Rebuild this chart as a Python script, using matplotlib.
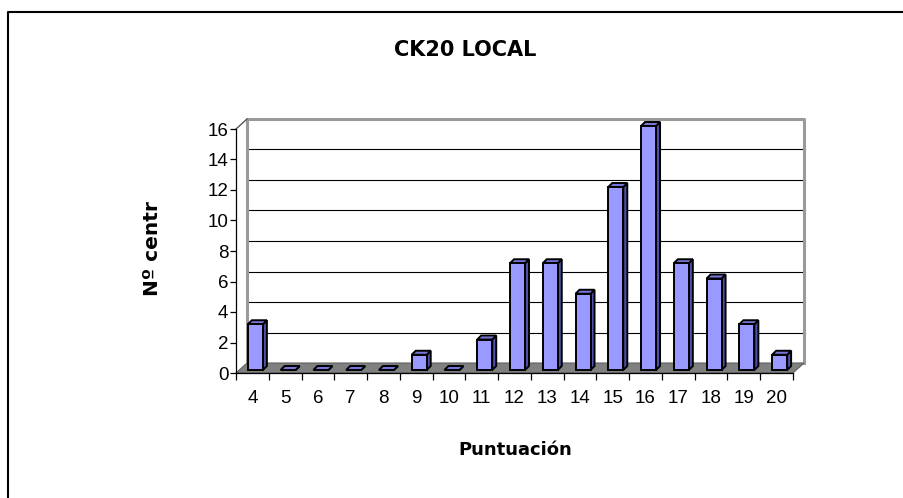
import matplotlib
matplotlib.use("Agg")
import matplotlib.pyplot as plt
from matplotlib.patches import Polygon, Rectangle
from matplotlib.lines import Line2D
import numpy as np

# Puntuaciones y número de centros
puntuacion = [4, 5, 6, 7, 8, 9, 10, 11, 12, 13, 14, 15, 16, 17, 18, 19, 20]
n_centros = [3, 0, 0, 0, 0, 1, 0, 2, 7, 7, 5, 12, 16, 7, 6, 3, 1]
y_ticks = [0, 2, 4, 6, 8, 10, 12, 14, 16]

W, H = 904, 498
fig = plt.figure(figsize=(W / 100, H / 100), dpi=100)

# front plane of the 3d box, in pixels
x0, x1 = 236, 793
y_bot, y_top = 373, 129
ax = fig.add_axes([x0 / W, (H - y_bot) / H, (x1 - x0) / W, (y_bot - y_top) / H])
n = len(puntuacion)
ax.set_xlim(-0.5, n - 0.5)
ax.set_ylim(0, 16)
ax.patch.set_visible(False)

# pixel -> data conversion for the depth offsets
cat_px = (x1 - x0) / n
unit_px = (y_bot - y_top) / 16.0
def off(px, py):
    return px / cat_px, py / unit_px

ddx, ddy = off(11, 10)      # full depth of the box
left, right = -0.5, n - 0.5

# floor
ax.add_patch(Polygon([(left, 0), (right, 0), (right + ddx, ddy), (left + ddx, ddy)],
                     closed=True, facecolor="#808080", edgecolor="#606060",
                     lw=0.8, clip_on=False, zorder=1))

# back wall gridlines and border
for t in y_ticks[1:-1]:
    ax.add_line(Line2D([left + ddx, right + ddx], [t + ddy, t + ddy],
                       color="black", lw=0.8, clip_on=False, zorder=0.5))
ax.add_line(Line2D([left + ddx, left + ddx, right + ddx, right + ddx],
                   [ddy, 16 + ddy, 16 + ddy, ddy],
                   color="#9a9a9a", lw=2.2, clip_on=False, zorder=0.6))
ax.add_line(Line2D([left, left + ddx], [16, 16 + ddy], color="#555555",
                   lw=1.0, clip_on=False, zorder=0.7))

# 3d columns
bw = 15 / cat_px
fx, fy = off(3, 3)
bdx, bdy = off(4, 4)
for i, v in enumerate(n_centros):
    xl = i - bw / 2 + fx
    xr = xl + bw
    yb = fy
    yt = v + fy
    kw = dict(edgecolor="black", lw=1.4, clip_on=False, zorder=3, joinstyle="miter")
    ax.add_patch(Polygon([(xr, yb), (xr + bdx, yb + bdy), (xr + bdx, yt + bdy), (xr, yt)],
                         closed=True, facecolor="#5050a8", **kw))
    ax.add_patch(Polygon([(xl, yt), (xr, yt), (xr + bdx, yt + bdy), (xl + bdx, yt + bdy)],
                         closed=True, facecolor="#7676d8", **kw))
    if v > 0:
        ax.add_patch(Rectangle((xl, yb), bw, v, facecolor="#9999ff", **kw))

# axes lines and ticks
for s in ["top", "right"]:
    ax.spines[s].set_visible(False)
for s in ["left", "bottom"]:
    ax.spines[s].set_color("black")
    ax.spines[s].set_linewidth(0.9)
    ax.spines[s].set_zorder(2)

ax.set_yticks(y_ticks)
ax.set_yticklabels([str(t) for t in y_ticks], fontsize=13.5, family="Liberation Sans")
ax.tick_params(axis="y", direction="out", length=4.5, width=0.9, pad=1)

ax.set_xticks(range(n))
ax.set_xticklabels([str(p) for p in puntuacion], fontsize=13.5, family="Liberation Sans")
ax.set_xticks(np.arange(n + 1) - 0.5, minor=True)
ax.tick_params(axis="x", which="major", length=0, pad=12)
ax.tick_params(axis="x", which="minor", direction="out", length=5, width=0.9)

# titles
fig.text(465 / W, 1 - 50 / H, "CK20 LOCAL", ha="center", va="center",
         fontsize=15, fontweight="bold", family="DejaVu Sans")
fig.text(515 / W, 1 - 450 / H, "Puntuación", ha="center", va="center",
         fontsize=13, fontweight="bold", family="DejaVu Sans")
fig.text(152 / W, 1 - 249 / H, "Nº centr", ha="center", va="center", rotation=90,
         fontsize=14.5, fontweight="bold", family="DejaVu Sans")

# outer frame
fig.add_artist(Line2D([7.5 / W, 7.5 / W, 1.0], [0.0, 1 - 12 / H, 1 - 12 / H],
                      transform=fig.transFigure, color="black", lw=1.5))

fig.savefig("out.png", dpi=100)
